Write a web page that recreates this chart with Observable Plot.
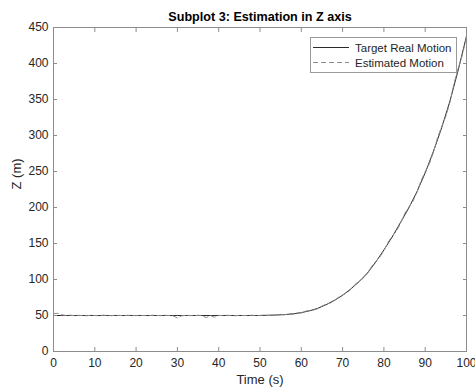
<!DOCTYPE html>
<html><head><meta charset="utf-8">
<script src="https://cdn.jsdelivr.net/npm/d3@7"></script>
<script src="https://cdn.jsdelivr.net/npm/@observablehq/plot@0.6"></script>
<style>body{margin:0;background:#fff;} #chart svg{display:block;}</style>
</head><body><div id="chart"></div>
<script>
const title = "Subplot 3: Estimation in Z axis";
const xLabel = "Time (s)";
const yLabel = "Z (m)";
const seriesNames = ["Target Real Motion", "Estimated Motion"];
const xTicks = [0, 10, 20, 30, 40, 50, 60, 70, 80, 90, 100];
const yTicks = [0, 50, 100, 150, 200, 250, 300, 350, 400, 450];

const realTime = [0,2,4,6,8,10,12,14,16,18,20,22,24,26,28,30,32,34,36,38,40,42,44,46,48,50,
  52,54,56,58,60,62,64,66,68,70,72,74,76,78,80,82,84,86,88,90,92,94,96,98,100];
const realZ = [50,50,50,50,50,50,50,50,50,50,50,50,50,50,50,50,50,50,50,50,50,50,50,50,50,50,
  50.3,50.7,51.3,52.3,54,56.5,60,65,71,78,87,97,109,124,141,159,179,199,222,248,278,311,348,391,438];

const estTime = [0,1,2,3,4,5,6,7,8,9,10,11,12,13,14,15,16,17,18,19,20,21,22,23,24,25,26,27,28,29,
  30,31,32,33,34,35,36,37,38,39,40,41,42,43,44,45,46,47,48,49,50,51,52,53,54,55,56,57,58,59,
  60,61,62,63,64,65,66,67,68,69,70,71,72,73,74,75,76,77,78,79,80,81,82,83,84,85,86,87,88,89,
  90,91,92,93,94,95,96,97,98,99,100];
const estZ = [52.5,53,51,50,50.5,49.8,50.2,50,49.6,50.3,50,49.7,50.4,50,49.8,50.2,50.1,49.7,50.3,50,
  49.8,50.2,50,49.6,50.4,50,49.8,50.3,49.9,49.5,46.5,49.6,50.2,50,49.7,50.3,49.8,47,49.9,47.5,
  50.2,49.8,50.3,50,49.7,50.2,50,49.8,50.4,50,50.1,50.6,50.1,50.8,50.5,51.4,50.9,52.2,51.8,53.6,
  53.6,55.9,56.9,57.6,59.5,63.1,65.6,67.2,70.4,75.3,78.7,81.6,86.2,93,97.8,101.8,108.1,117.8,125.2,131,
  140.1,151.6,160.3,167,177.8,191.3,200.4,208.5,220.9,237.4,249.6,260.6,276.8,297.1,312.5,326.5,346.2,372.8,393.4,411.9,436.5];

const real = realTime.map((t, i) => ({t, z: realZ[i]}));
const est = estTime.map((t, i) => ({t, z: estZ[i]}));

const textColor = "#262626";
const axisColor = "#8c8c8c";
const W = 475, H = 392;
const plot = Plot.plot({
  width: W, height: H,
  marginLeft: 53, marginRight: 9, marginTop: 27, marginBottom: 41,
  style: {fontFamily: "Arial, 'Liberation Sans', Helvetica, sans-serif", fontSize: "12px", color: textColor, background: "#fff", overflow: "visible"},
  x: {domain: [0, 100]},
  y: {domain: [0, 450]},
  marks: [
    Plot.line(real, {x: "t", y: "z", stroke: "#2b2b2b", strokeWidth: 1}),
    Plot.line(est, {x: "t", y: "z", stroke: "#8a8a8a", strokeWidth: 1, strokeDasharray: "5,3"}),
    Plot.frame({stroke: axisColor, strokeWidth: 1}),
    Plot.axisX({anchor: "bottom", ticks: xTicks, tickSize: -4, tickPadding: 11, stroke: axisColor, fill: textColor, label: null}),
    Plot.axisX({anchor: "top", ticks: xTicks, tickSize: -4, tickFormat: () => "", label: null, stroke: axisColor}),
    Plot.axisY({anchor: "left", ticks: yTicks, tickSize: -4, tickPadding: 9, stroke: axisColor, fill: textColor, label: null}),
    Plot.axisY({anchor: "right", ticks: yTicks, tickSize: -4, tickFormat: () => "", label: null, stroke: axisColor}),
    Plot.text([xLabel], {frameAnchor: "bottom", dy: 32, fontSize: 13, fill: textColor}),
    Plot.text([yLabel], {frameAnchor: "left", dx: -37, rotate: -90, fontSize: 13, fill: textColor}),
    Plot.text([title], {frameAnchor: "top", dy: -15, fontWeight: "bold", fontSize: 12.6, fill: "#000"})
  ]
});
document.getElementById("chart").appendChild(plot);

// Legend (MATLAB-style box, top-right inside axes)
const svg = d3.select(plot);
const lg = svg.append("g").attr("font-family", "Arial, 'Liberation Sans', sans-serif").attr("font-size", 11.5).attr("text-anchor", "start");
lg.append("rect").attr("x", 310.5).attr("y", 37.5).attr("width", 146).attr("height", 35)
  .attr("fill", "#fff").attr("stroke", "#9a9a9a").attr("stroke-width", 1);
const rows = [
  {name: seriesNames[0], stroke: "#2b2b2b", dash: null},
  {name: seriesNames[1], stroke: "#8a8a8a", dash: "5,3"}
];
rows.forEach((r, i) => {
  const y = 47.5 + i * 15;
  lg.append("line").attr("x1", 313).attr("x2", 349).attr("y1", y).attr("y2", y)
    .attr("stroke", r.stroke).attr("stroke-width", 1).attr("stroke-dasharray", r.dash);
  lg.append("text").attr("x", 355).attr("y", y).attr("dy", "0.35em").attr("fill", textColor).text(r.name);
});
</script>
</body></html>
